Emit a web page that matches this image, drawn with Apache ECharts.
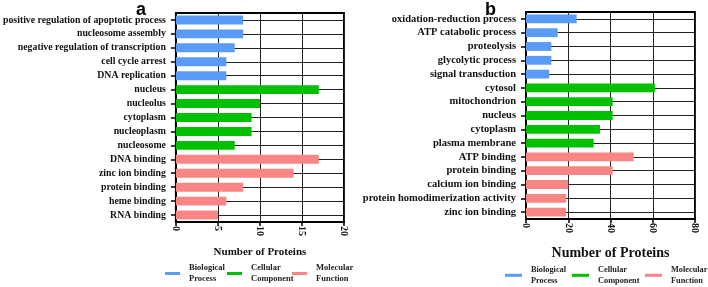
<!DOCTYPE html>
<html>
<head>
<meta charset="utf-8">
<script src="https://cdn.jsdelivr.net/npm/echarts@6/dist/echarts.min.js"></script>
<style>
  html, body { margin: 0; padding: 0; background: #fff; }
  #chart { width: 708px; height: 287px; }
</style>
</head>
<body>
<div id="chart"></div>
<script>
// panel a
const bpLabelsA = ['positive regulation of apoptotic process', 'nucleosome assembly', 'negative regulation of transcription', 'cell cycle arrest', 'DNA replication'];
const bpValuesA = [8, 8, 7, 6, 6];
const ccLabelsA = ['nucleus', 'nucleolus', 'cytoplasm', 'nucleoplasm', 'nucleosome'];
const ccValuesA = [17, 10, 9, 9, 7];
const mfLabelsA = ['DNA binding', 'zinc ion binding', 'protein binding', 'heme binding', 'RNA binding'];
const mfValuesA = [17, 14, 8, 6, 5];
const ticksA = [0, 5, 10, 15, 20];

// panel b
const bpLabelsB = ['oxidation-reduction process', 'ATP catabolic process', 'proteolysis', 'glycolytic process', 'signal transduction'];
const bpValuesB = [24, 15, 12, 12, 11];
const ccLabelsB = ['cytosol', 'mitochondrion', 'nucleus', 'cytoplasm', 'plasma membrane'];
const ccValuesB = [61, 41, 41, 35, 32];
const mfLabelsB = ['ATP binding', 'protein binding', 'calcium ion binding', 'protein homodimerization activity', 'zinc ion binding'];
const mfValuesB = [51, 41, 20, 19, 19];
const ticksB = [0, 20, 40, 60, 80];

const groupNames = ['Biological Process', 'Cellular Component', 'Molecular Function'];
const colors = ['#5b9bf8', '#00c000', '#f98585'];

const serif = 'Liberation Serif';

// pad each group's values so all three series share one category list
function padded(groups, idx) {
    let out = [];
    groups.forEach((g, i) => {
        g.forEach(v => out.push(i === idx ? v : null));
    });
    return out;
}

const catsA = bpLabelsA.concat(ccLabelsA, mfLabelsA);
const catsB = bpLabelsB.concat(ccLabelsB, mfLabelsB);
const valsA = [bpValuesA, ccValuesA, mfValuesA];
const valsB = [bpValuesB, ccValuesB, mfValuesB];

function xAxisOf(gridIndex, ticks, nameSize, nameGap) {
    return {
        type: 'value',
        gridIndex: gridIndex,
        min: ticks[0],
        max: ticks[ticks.length - 1],
        interval: ticks[1] - ticks[0],
        name: 'Number of Proteins',
        nameLocation: 'middle',
        nameGap: nameGap,
        nameTextStyle: {fontFamily: serif, fontWeight: 'bold', fontSize: nameSize, color: '#111'},
        axisLine: {show: true, lineStyle: {color: '#000', width: 2}},
        axisTick: {show: true, length: 4, lineStyle: {color: '#000', width: 1.5}},
        axisLabel: {rotate: -90, fontFamily: serif, fontWeight: 'bold', fontSize: 10, color: '#111', margin: 4},
        splitLine: {show: true, lineStyle: {color: '#222', width: 1}}
    };
}

function yAxisOf(gridIndex, cats, fontSize, margin) {
    return {
        type: 'category',
        gridIndex: gridIndex,
        data: cats,
        inverse: true,
        axisLine: {show: true, lineStyle: {color: '#000', width: 2}},
        axisTick: {show: true, alignWithLabel: true, length: 5, lineStyle: {color: '#000', width: 1.5}},
        axisLabel: {interval: 0, fontFamily: serif, fontWeight: 'bold', fontSize: fontSize, color: '#111', margin: margin},
        splitLine: {show: true, interval: 0, alignWithLabel: true, lineStyle: {color: '#222', width: 1}}
    };
}

function seriesOf(idx, vals) {
    return groupNames.map((name, i) => ({
        name: name,
        type: 'bar',
        xAxisIndex: idx,
        yAxisIndex: idx,
        stack: 'p' + idx,
        data: padded(vals, i),
        barCategoryGap: '36%',
        itemStyle: {color: colors[i]}
    }));
}

// one legend per entry so each sits where the reference puts it
function legendsOf(lefts, top, fontSize, iconW) {
    return groupNames.map((name, i) => ({
        left: lefts[i],
        top: top,
        padding: 0,
        itemWidth: iconW,
        itemHeight: 3,
        icon: 'rect',
        data: [name],
        formatter: n => n.replace(' ', '\n'),
        textStyle: {fontFamily: serif, fontWeight: 'bold', fontSize: fontSize, color: '#222', lineHeight: fontSize + 2, padding: [0, 0, 0, 4]}
    }));
}

let chart = echarts.init(document.getElementById('chart'));
const option = {
    animation: false,
    color: colors,
    title: [
        {text: 'a', left: 131, top: -4, textStyle: {fontFamily: 'Liberation Sans', fontWeight: 'bold', fontSize: 18, color: '#000'}},
        {text: 'b', left: 480, top: -4, textStyle: {fontFamily: 'Liberation Sans', fontWeight: 'bold', fontSize: 18, color: '#000'}}
    ],
    grid: [
        {left: 174, right: 364, top: 13, bottom: 65, show: true, borderColor: '#000', borderWidth: 2},
        {left: 526, right: 13, top: 12, bottom: 68, show: true, borderColor: '#000', borderWidth: 2}
    ],
    xAxis: [xAxisOf(0, ticksA, 11, 25), xAxisOf(1, ticksB, 14, 27)],
    yAxis: [yAxisOf(0, catsA, 9.8, 10), yAxisOf(1, catsB, 10.5, 10)],
    legend: legendsOf([165, 227, 292], 263, 8.5, 15).concat(legendsOf([505, 572, 645], 265, 8.3, 17)),
    series: seriesOf(0, valsA).concat(seriesOf(1, valsB))
};

chart.setOption(option);

window.addEventListener('resize', function () {
    chart.resize();
});
</script>
</body>
</html>
